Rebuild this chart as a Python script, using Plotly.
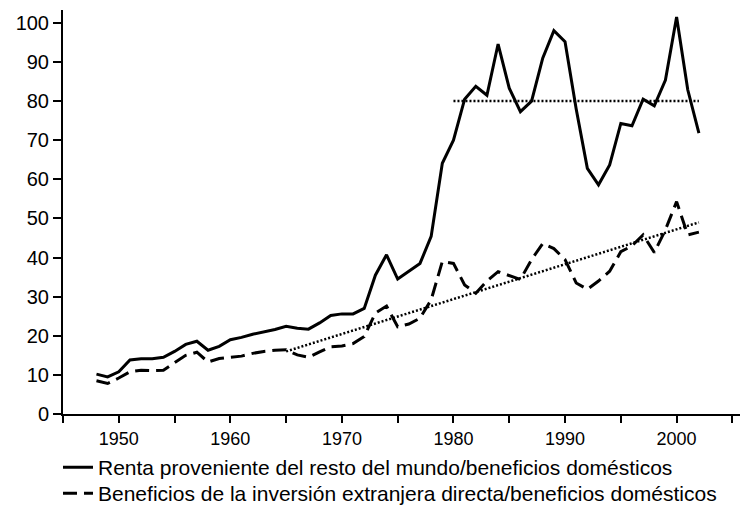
import plotly.graph_objects as go

years = list(range(1948, 2003))

renta = [10.2, 9.5, 10.8, 13.8, 14.1, 14.1, 14.5, 16.0, 17.8, 18.6,
         16.3, 17.3, 19.0, 19.6, 20.4, 21.0, 21.6, 22.4, 21.9, 21.7,
         23.3, 25.2, 25.6, 25.6, 27.0, 35.5, 40.7, 34.5, 36.4, 38.5,
         45.4, 64.1, 70.0, 80.5, 83.8, 81.5, 94.6, 83.3, 77.3, 80.0,
         91.0, 98.0, 95.2, 78.0, 62.8, 58.6, 63.7, 74.3, 73.7, 80.5,
         78.8, 85.4, 101.5, 82.9, 71.8]

ied = [8.5, 7.8, 9.2, 10.8, 11.2, 11.1, 11.2, 13.2, 15.0, 15.8,
       13.3, 14.2, 14.5, 14.8, 15.5, 16.0, 16.3, 16.4, 15.1, 14.5,
       15.9, 17.2, 17.4, 18.0, 19.8, 25.8, 27.6, 22.3, 23.0, 24.5,
       29.2, 39.0, 38.5, 33.0, 30.9, 34.0, 36.4, 35.3, 34.4, 39.5,
       43.6, 42.3, 39.5, 33.5, 31.9, 34.0, 36.5, 41.5, 43.0, 45.8,
       41.3, 47.1, 54.3, 45.8, 46.5]

mean_years = [1980, 2002]
mean_vals = [80, 80]

trend_years = [1965, 2002]
trend_vals = [16, 49]

x_tickvals = [1945, 1950, 1955, 1960, 1965, 1970, 1975, 1980, 1985, 1990, 1995, 2000, 2005]
x_ticktext = ["", "1950", "", "1960", "", "1970", "", "1980", "", "1990", "", "2000", ""]
y_tickvals = [0, 10, 20, 30, 40, 50, 60, 70, 80, 90, 100]

label_renta = "Renta proveniente del resto del mundo/beneficios domésticos"
label_ied = "Beneficios de la inversión extranjera directa/beneficios domésticos"

fig = go.Figure()
fig.add_trace(go.Scatter(x=years, y=renta, mode="lines", name=label_renta,
                         legend="legend",
                         line=dict(color="black", width=3)))
fig.add_trace(go.Scatter(x=years, y=ied, mode="lines", name=label_ied,
                         legend="legend2",
                         line=dict(color="black", width=3, dash="14px,7px")))
fig.add_trace(go.Scatter(x=mean_years, y=mean_vals, mode="lines", showlegend=False,
                         line=dict(color="black", width=2.5, dash="2px,2px")))
fig.add_trace(go.Scatter(x=trend_years, y=trend_vals, mode="lines", showlegend=False,
                         line=dict(color="black", width=2.5, dash="2px,2px")))

legend_common = dict(xanchor="left", yanchor="top", orientation="v",
                     font=dict(size=21), bgcolor="rgba(0,0,0,0)",
                     tracegroupgap=0, itemwidth=30)

fig.update_layout(
    width=740, height=498,
    margin=dict(l=55, r=0, t=2, b=92, autoexpand=False),
    paper_bgcolor="white", plot_bgcolor="white",
    font=dict(family="Liberation Sans, Arial, sans-serif", color="black"),
    showlegend=True,
    legend=dict(x=-0.0073, y=-0.082, **legend_common),
    legend2=dict(x=-0.0073, y=-0.146, **legend_common),
    xaxis=dict(range=[1945, 2006.4], tickmode="array", tickvals=x_tickvals,
               ticktext=x_ticktext, ticks="outside", ticklen=7, tickwidth=2,
               tickcolor="black", showline=True, linecolor="black", linewidth=2,
               showgrid=False, zeroline=False, tickfont=dict(size=18),
               automargin=False),
    yaxis=dict(range=[0, 103.3], tickmode="array", tickvals=y_tickvals,
               ticks="outside", ticklen=8, tickwidth=2, tickcolor="black",
               showline=True, linecolor="black", linewidth=2,
               showgrid=False, zeroline=False, tickfont=dict(size=20),
               automargin=False),
)

fig.write_html("out.html")
